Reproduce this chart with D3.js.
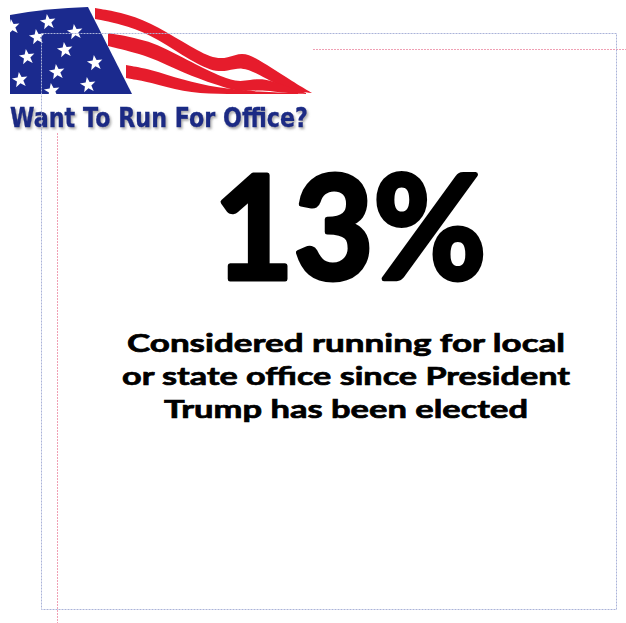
<!DOCTYPE html>
<html lang="en">
  <head>
    <meta charset="UTF-8" />
    <title>Want To Run For Office?</title>
    <style>
      body { margin: 0; background: #fff; }
    </style>
  </head>
  <body>
    <div id="chart"></div>
    <script src="https://cdn.jsdelivr.net/npm/d3@7"></script>
    <script>
      // the one number this graphic is about
      const headlineValue = [13];
      const captionLines = [
        "Considered running for local",
        "or state office since President",
        "Trump has been elected",
      ];
      const logoTitle = ["Want To Run For Office?"];

      // logo bits: star centres and stripe outlines [x, top, bottom]
      const stars = [
        [48, 22], [12, 27], [37, 37], [75, 32], [65, 50], [27, 57],
        [95, 63], [57, 72], [20, 80], [88, 85], [52, 91],
      ];
      const stripeTop = [
        [95, 8, 19], [120, 12, 24], [150, 22, 34], [183, 42, 56], [212, 59, 72],
        [228, 58, 71], [242, 52, 67], [256, 58, 73], [270, 67, 81], [292, 81, 91], [312, 93, 93],
      ];
      const stripeMid = [
        [108, 33, 46], [150, 40, 56], [183, 58, 73], [217, 75, 85], [236, 82, 91],
        [250, 80, 91], [264, 78, 90], [286, 86, 93], [306, 93, 94],
      ];
      const stripeLow = [
        [126, 65, 78], [150, 69, 82], [183, 80, 92], [217, 88, 94], [260, 92, 94], [298, 93, 94],
      ];

      const width = 626, height = 623;
      const svg = d3.select("#chart").append("svg")
        .attr("width", width).attr("height", height);

      const defs = svg.append("defs");
      const shadow = defs.append("filter").attr("id", "shadow")
        .attr("x", "-5%").attr("y", "-20%").attr("width", "110%").attr("height", "150%");
      shadow.append("feDropShadow")
        .attr("dx", 1.5).attr("dy", 2).attr("stdDeviation", 1)
        .attr("flood-color", "#777").attr("flood-opacity", 0.6);

      // layout guides (pink under the logo, blue over it)
      const guides = svg.append("g").attr("fill", "none");
      guides.append("line")
        .attr("x1", 310).attr("x2", width).attr("y1", 49.5).attr("y2", 49.5)
        .attr("stroke", "#f0a0b4").attr("stroke-dasharray", "2,1");
      guides.append("line")
        .attr("x1", 57.5).attr("x2", 57.5).attr("y1", 49).attr("y2", height)
        .attr("stroke", "#f0a0b4").attr("stroke-dasharray", "2,1");

      // logo
      const logo = svg.append("g");
      logo.append("rect").attr("x", 0).attr("y", 0).attr("width", 312).attr("height", 132).attr("fill", "#fff");
      logo.append("path")
        .attr("d", "M10,15 Q48,8 88,7 L132,94 L10,94 Z")
        .attr("fill", "#1b2a8e");

      const starPath = (() => {
        const pts = d3.range(10).map(i => {
          const r = i % 2 ? 3.4 : 8.2;
          const a = -Math.PI / 2 + i * Math.PI / 5;
          return [r * Math.cos(a), r * Math.sin(a)];
        });
        return "M" + pts.join("L") + "Z";
      })();
      logo.append("g").selectAll("path").data(stars).join("path")
        .attr("d", starPath)
        .attr("transform", d => `translate(${d[0]},${d[1]}) rotate(-8)`)
        .attr("fill", "#fff");
      // clip stars to the canton
      logo.append("rect").attr("x", 0).attr("y", 94).attr("width", 140).attr("height", 4).attr("fill", "#fff");
      logo.append("rect").attr("x", 0).attr("y", 0).attr("width", 10).attr("height", 100).attr("fill", "#fff");

      const stripeArea = d3.area()
        .x(d => d[0]).y0(d => d[1]).y1(d => d[2])
        .curve(d3.curveBasis);
      logo.append("g").selectAll("path").data([stripeTop, stripeMid, stripeLow]).join("path")
        .attr("d", stripeArea)
        .attr("fill", "#e61c2c");

      logo.append("text")
        .data(logoTitle)
        .attr("x", 10).attr("y", 127)
        .attr("textLength", 298).attr("lengthAdjust", "spacingAndGlyphs")
        .attr("font-family", "DejaVu Sans, Verdana, sans-serif")
        .attr("font-weight", "bold").attr("font-size", 26)
        .attr("fill", "#1a2a84").attr("stroke", "#1a2a84").attr("stroke-width", 0.4)
        .attr("filter", "url(#shadow)")
        .text(d => d);

      svg.append("rect")
        .attr("x", 41.5).attr("y", 33.5).attr("width", 575).attr("height", 576)
        .attr("fill", "none").attr("stroke", "#aab3d8").attr("stroke-dasharray", "2,1");

      // big number
      const fmt = d => d3.format("d")(d) + "%";
      svg.append("g").selectAll("text").data(headlineValue).join("text")
        .attr("x", 350).attr("y", 279)
        .attr("text-anchor", "middle")
        .attr("textLength", 272).attr("lengthAdjust", "spacingAndGlyphs")
        .attr("font-family", "Century Gothic, Lato, sans-serif")
        .attr("font-weight", "bold").attr("font-size", 143)
        .attr("fill", "#000").attr("stroke", "#000").attr("stroke-width", 5)
        .attr("stroke-linejoin", "round")
        .text(fmt);

      // caption
      const lineWidths = [438, 448, 364];
      svg.append("g").selectAll("text").data(captionLines).join("text")
        .attr("x", 346).attr("y", (d, i) => 352 + i * 33)
        .attr("text-anchor", "middle")
        .attr("textLength", (d, i) => lineWidths[i]).attr("lengthAdjust", "spacingAndGlyphs")
        .attr("font-family", "Century Gothic, Lato, sans-serif")
        .attr("font-weight", "bold").attr("font-size", 25)
        .attr("fill", "#000").attr("stroke", "#000").attr("stroke-width", 0.7)
        .text(d => d);
    </script>
  </body>
</html>
